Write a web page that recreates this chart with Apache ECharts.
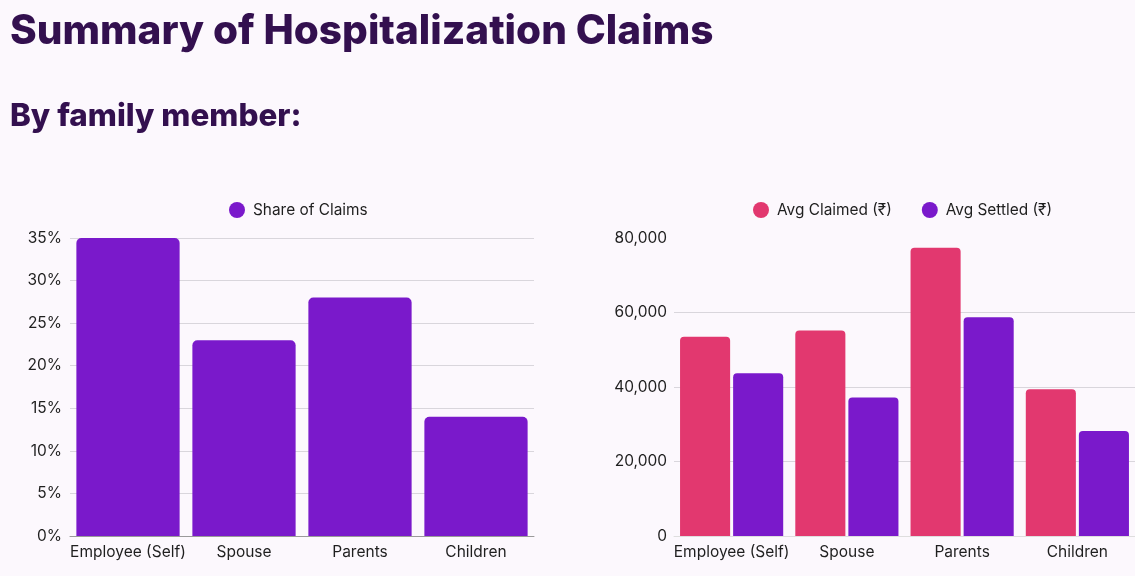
<!DOCTYPE html>
<html>
<head>
<meta charset="utf-8">
<script src="https://cdn.jsdelivr.net/npm/echarts@6/dist/echarts.min.js"></script>
<style>
  html, body { margin: 0; padding: 0; background: #fcf8fd; }
  #main { width: 1135px; height: 576px; }
</style>
</head>
<body>
<div id="main"></div>
<script>
// 数据
var categories = ['Employee (Self)', 'Spouse', 'Parents', 'Children'];
var shareOfClaims = [35, 23, 28, 14];           // %
var avgClaimed = [53500, 55200, 77400, 39400];  // ₹
var avgSettled = [43700, 37200, 58700, 28200];  // ₹

var pink = '#e2386f';
var purple = '#7a19cb';
var font = 'Inter';

var myChart = echarts.init(document.getElementById('main'));

var axisLabelStyle = { color: '#1f1f1f', fontSize: 15.5, fontFamily: font };
var legendText = { color: '#1f1f1f', fontSize: 15.4, fontFamily: font, padding: [0, 0, 0, 3] };

option = {
    backgroundColor: '#fcf8fd',
    textStyle: { fontFamily: font },
    title: [
        {
            text: 'Summary of Hospitalization Claims',
            left: 5, top: 6,
            textStyle: { color: '#33104f', fontSize: 40.5, fontWeight: 800, fontFamily: font }
        },
        {
            text: 'By family member:',
            left: 5, top: 96,
            textStyle: { color: '#33104f', fontSize: 31.4, fontWeight: 800, fontFamily: font }
        }
    ],
    legend: [
        {
            data: ['Share of Claims'],
            left: 224, top: 197,
            icon: 'circle', itemWidth: 16, itemHeight: 16,
            textStyle: legendText
        },
        {
            data: ['Avg Claimed (₹)', 'Avg Settled (₹)'],
            left: 748, top: 197,
            icon: 'circle', itemWidth: 16, itemHeight: 16, itemGap: 30,
            textStyle: legendText
        }
    ],
    grid: [
        { left: 70, width: 464, top: 238, height: 298 },
        { left: 674, width: 467, top: 238, height: 298 }
    ],
    xAxis: [
        {
            type: 'category', gridIndex: 0, data: categories,
            axisTick: { show: false },
            axisLine: { lineStyle: { color: '#9a9a9a' } },
            axisLabel: Object.assign({ margin: 8, interval: 0 }, axisLabelStyle)
        },
        {
            type: 'category', gridIndex: 1, data: categories,
            axisTick: { show: false },
            axisLine: { lineStyle: { color: '#dedede' } },
            axisLabel: Object.assign({ margin: 8, interval: 0 }, axisLabelStyle)
        }
    ],
    yAxis: [
        {
            type: 'value', gridIndex: 0, min: 0, max: 35, interval: 5,
            axisLabel: Object.assign({ margin: 8, formatter: '{value}%' }, axisLabelStyle),
            splitLine: { lineStyle: { color: '#d9d6dc' } }
        },
        {
            type: 'value', gridIndex: 1, min: 0, max: 80000, interval: 20000,
            axisLabel: Object.assign({
                margin: 7,
                formatter: function (v) { return v.toLocaleString('en-US'); }
            }, axisLabelStyle),
            splitLine: { showMaxLine: false, lineStyle: { color: '#d9d6dc' } }
        }
    ],
    series: [
        {
            type: 'bar', name: 'Share of Claims',
            xAxisIndex: 0, yAxisIndex: 0,
            data: shareOfClaims,
            barCategoryGap: '11%',
            itemStyle: { color: purple, borderRadius: [5, 5, 0, 0] }
        },
        {
            type: 'bar', name: 'Avg Claimed (₹)',
            xAxisIndex: 1, yAxisIndex: 1,
            data: avgClaimed,
            barCategoryGap: '10.5%', barGap: '6%',
            itemStyle: { color: pink, borderRadius: [4, 4, 0, 0] }
        },
        {
            type: 'bar', name: 'Avg Settled (₹)',
            xAxisIndex: 1, yAxisIndex: 1,
            data: avgSettled,
            barCategoryGap: '10.5%', barGap: '6%',
            itemStyle: { color: purple, borderRadius: [4, 4, 0, 0] }
        }
    ]
};

myChart.setOption(option);
</script>
</body>
</html>
